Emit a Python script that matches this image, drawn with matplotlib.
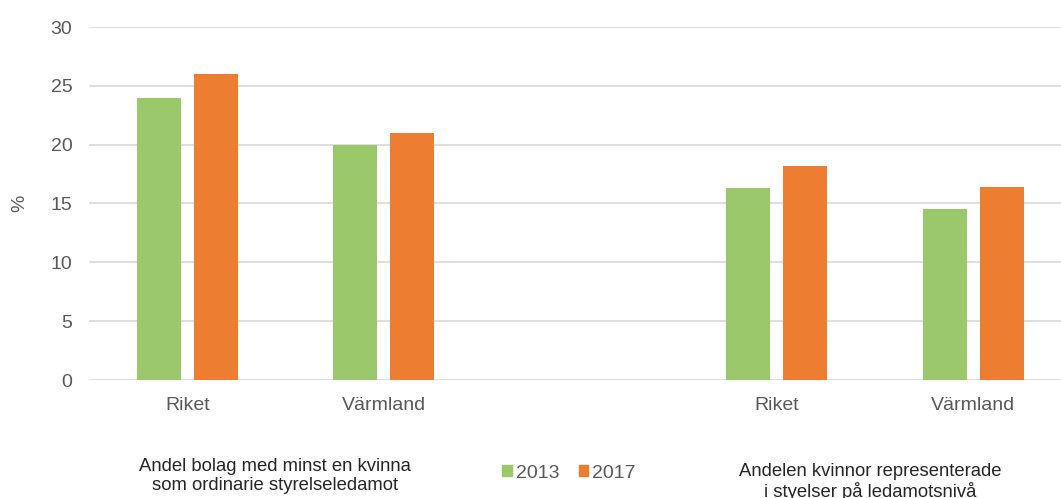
import numpy as np
import matplotlib
matplotlib.use("Agg")
import matplotlib.pyplot as plt
from matplotlib.patches import Patch

plt.rcParams['font.family'] = ['Liberation Sans', 'DejaVu Sans']

# Data (middle slot is an empty spacer)
categories = ["Riket", "Värmland", "", "Riket", "Värmland"]
years = ["2013", "2017"]
values_2013 = [24.0, 20.0, np.nan, 16.3, 14.5]
values_2017 = [26.0, 21.0, np.nan, 18.2, 16.4]
group_titles = ["Andel bolag med minst en kvinna\nsom ordinarie styrelseledamot",
                "Andelen kvinnor representerade\ni styelser på ledamotsnivå"]

GREEN = "#9BC86A"
ORANGE = "#ED7D31"
GRAY = "#595959"

W, H = 1061, 498
fig = plt.figure(figsize=(W / 100, H / 100), dpi=100)
# axes runs a bit past the right edge, like the original crop
ax = fig.add_axes([89 / W, 1 - 380 / H, 982.5 / W, 353 / H])

x = np.arange(len(categories))
bw = 0.224
off = 0.146
ax.bar(x - off, values_2013, width=bw, color=GREEN, zorder=3)
ax.bar(x + off, values_2017, width=bw, color=ORANGE, zorder=3)

ax.set_xlim(-0.5, len(categories) - 0.5)
ax.set_ylim(0, 30)
ax.set_yticks(range(0, 31, 5))
ax.set_xticks(x)
ax.set_xticklabels(categories)
ax.yaxis.grid(True, color="#D9D9D9", linewidth=1.2, zorder=0)
ax.set_axisbelow(True)
for s in ax.spines.values():
    s.set_visible(False)
ax.tick_params(axis="both", length=0, labelsize=14, labelcolor=GRAY)
ax.tick_params(axis="y", pad=12)
ax.tick_params(axis="x", pad=12)
ax.set_ylabel("%", fontsize=14, color=GRAY)
ax.yaxis.set_label_coords(-0.062, 0.5)

# group descriptions under the axis
fig.text(275 / W, 1 - 476 / H, group_titles[0], ha="center", va="center",
         fontsize=13.3, color="#262626", linespacing=1.08)
fig.text(870 / W, 1 - 482 / H, group_titles[1], ha="center", va="center",
         fontsize=13.3, color="#262626", linespacing=1.08)

handles = [Patch(color=GREEN), Patch(color=ORANGE)]
fig.legend(handles, years, loc="center", bbox_to_anchor=(569 / W, 1 - 473 / H),
           ncol=2, frameon=False, fontsize=14, labelcolor=GRAY,
           handlelength=0.5, handleheight=0.5, handletextpad=0.2,
           columnspacing=1.0)

fig.savefig("out.png", dpi=100)
